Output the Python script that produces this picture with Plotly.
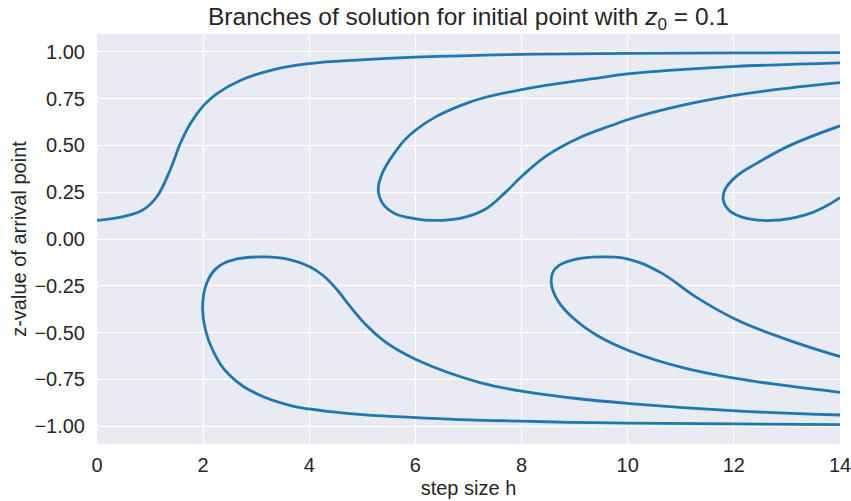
import plotly.graph_objects as go

# ---- data (step size h, z-value) ----
branch1_h = [0.0, 0.5, 0.87, 1.13, 1.38, 1.57, 1.76, 2.01, 2.26, 2.70, 3.33, 4.0, 4.97, 6.0, 8.0, 10.0, 12.0, 14.0]
branch1_z = [0.100, 0.12, 0.156, 0.227, 0.37, 0.51, 0.617, 0.714, 0.777, 0.847, 0.905, 0.937, 0.957, 0.971, 0.986, 0.991, 0.994, 0.996]

upper_loop1_h = [14.0, 12.04, 11.0, 10.04, 9.31, 8.0, 6.86, 6.0, 5.6, 5.35, 5.30, 5.38, 5.60, 6.0, 6.35, 6.86, 7.30, 7.68, 8.03, 8.49, 9.06, 9.69, 10.04, 11.0, 12.04, 13.0, 14.0]
upper_loop1_z = [0.941, 0.922, 0.905, 0.883, 0.855, 0.798, 0.714, 0.581, 0.457, 0.333, 0.262, 0.191, 0.138, 0.108, 0.099, 0.112, 0.156, 0.245, 0.342, 0.448, 0.537, 0.606, 0.641, 0.712, 0.768, 0.805, 0.835]

upper_loop2_h = [14.0, 13.06, 12.43, 12.04, 11.83, 11.80, 11.90, 12.15, 12.72, 13.35, 13.72, 14.0]
upper_loop2_z = [0.604, 0.50, 0.404, 0.333, 0.262, 0.209, 0.156, 0.117, 0.099, 0.129, 0.173, 0.221]

lower_loop1_h = [14.0, 12.0, 10.0, 8.91, 8.0, 7.0, 6.02, 5.53, 5.0, 4.40, 4.0, 3.65, 3.02, 2.51, 2.20, 2.04, 1.99, 2.07, 2.26, 2.62, 3.16, 3.63, 4.0, 4.26, 4.52, 4.77, 5.09, 5.40, 5.71, 6.02, 6.6, 7.23, 8.0, 8.91, 10.04, 12.04, 14.0]
lower_loop1_z = [-0.991, -0.988, -0.983, -0.979, -0.973, -0.966, -0.954, -0.947, -0.938, -0.922, -0.908, -0.890, -0.828, -0.731, -0.606, -0.482, -0.358, -0.234, -0.154, -0.108, -0.096, -0.110, -0.147, -0.195, -0.270, -0.360, -0.465, -0.543, -0.600, -0.645, -0.712, -0.768, -0.813, -0.848, -0.879, -0.918, -0.940]

lower_loop2_h = [14.0, 13.03, 12.04, 11.26, 10.63, 10.04, 9.50, 8.94, 8.62, 8.56, 8.69, 9.0, 9.44, 10.04, 11.02, 12.04, 13.03, 14.0]
lower_loop2_z = [-0.628, -0.540, -0.430, -0.305, -0.181, -0.110, -0.096, -0.114, -0.163, -0.234, -0.332, -0.429, -0.518, -0.598, -0.686, -0.745, -0.785, -0.819]

x_ticks = [0, 2, 4, 6, 8, 10, 12, 14]
x_ticklabels = ["0", "2", "4", "6", "8", "10", "12", "14"]
y_ticks = [-1.0, -0.75, -0.5, -0.25, 0.0, 0.25, 0.5, 0.75, 1.0]
y_ticklabels = ["\u22121.00", "\u22120.75", "\u22120.50", "\u22120.25", "0.00", "0.25", "0.50", "0.75", "1.00"]

LINE = "#1f77b4"
FONT = "Liberation Sans, Arial, sans-serif"
TXT = "#262626"

fig = go.Figure()
for hs, zs in [(branch1_h, branch1_z), (upper_loop1_h, upper_loop1_z), (upper_loop2_h, upper_loop2_z),
               (lower_loop1_h, lower_loop1_z), (lower_loop2_h, lower_loop2_z)]:
    fig.add_trace(go.Scatter(x=hs, y=zs, mode="lines",
                             line=dict(color=LINE, width=2.8, shape="spline", smoothing=1.2),
                             showlegend=False, hoverinfo="skip"))

fig.update_layout(
    width=851, height=501,
    margin=dict(l=97, r=11, t=34, b=57, autoexpand=False),
    paper_bgcolor="white", plot_bgcolor="#EAEAF2",
    font=dict(family=FONT, color=TXT, size=20),
    title=dict(text="Branches of solution for initial point with <i>z</i><sub>0</sub> = 0.1",
               x=0.5, xref="paper", xanchor="center",
               y=1 - 16 / 501, yref="container", yanchor="middle",
               font=dict(family=FONT, size=24.5, color=TXT)),
    xaxis=dict(range=[0, 14], tickvals=x_ticks, ticktext=x_ticklabels,
               showgrid=True, gridcolor="white", gridwidth=1.4, zeroline=False,
               showline=False, ticks="", ticklabelstandoff=7, ticklabeloverflow="allow",
               tickfont=dict(size=20, color=TXT),
               title=dict(text="step size h", font=dict(size=20, color=TXT), standoff=5)),
    yaxis=dict(range=[-1.095, 1.095], tickvals=y_ticks, ticktext=y_ticklabels,
               showgrid=True, gridcolor="white", gridwidth=1.4, zeroline=False,
               showline=False, ticks="", ticklabelstandoff=11,
               tickfont=dict(size=20, color=TXT),
               title=dict(text="z-value of arrival point", font=dict(size=20, color=TXT), standoff=2)),
)

fig.write_html("out.html", config={"displayModeBar": False},
               post_script="document.body.style.margin='0';document.body.style.overflow='hidden';")
